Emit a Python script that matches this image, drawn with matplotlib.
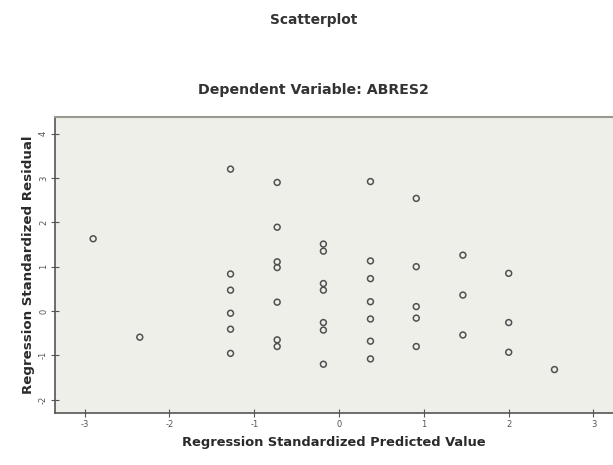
import matplotlib
matplotlib.use("Agg")
import matplotlib.pyplot as plt

# Data
pred = [-2.90, -2.35,
        -1.28, -1.28, -1.28, -1.28, -1.28, -1.28,
        -0.73, -0.73, -0.73, -0.73, -0.73, -0.73, -0.73,
        -0.185, -0.185, -0.185, -0.185, -0.185, -0.185, -0.185,
        0.37, 0.37, 0.37, 0.37, 0.37, 0.37, 0.37,
        0.91, 0.91, 0.91, 0.91, 0.91,
        1.46, 1.46, 1.46,
        2.00, 2.00, 2.00,
        2.54]
resid = [1.63, -0.59,
         3.20, 0.835, 0.47, -0.05, -0.41, -0.955,
         2.90, 1.89, 1.11, 0.98, 0.20, -0.65, -0.80,
         1.51, 1.35, 0.62, 0.47, -0.26, -0.43, -1.20,
         2.92, 1.13, 0.73, 0.21, -0.18, -0.68, -1.08,
         2.54, 1.00, 0.10, -0.16, -0.80,
         1.26, 0.36, -0.54,
         0.85, -0.26, -0.93,
         -1.32]
xticks = [-3, -2, -1, 0, 1, 2, 3]
yticks = [-2, -1, 0, 1, 2, 3, 4]

fig = plt.figure(figsize=(6.13, 4.65), dpi=100)
fig.patch.set_facecolor("white")
ax = fig.add_axes([0.0897, 0.1118, 0.9103, 0.637])
ax.set_facecolor("#efefea")
ax.scatter(pred, resid, s=18, facecolors="none", edgecolors="#505050", linewidths=1.1, zorder=3)

ax.set_xlim(-3.35, 3.23)
ax.set_ylim(-2.30, 4.38)
ax.set_xticks(xticks)
ax.set_yticks(yticks)
ax.set_xticklabels([str(t) for t in xticks], fontsize=6, color="#555555")
ax.set_yticklabels([str(t) for t in yticks], fontsize=6, color="#555555", rotation=90, va="center")
ax.tick_params(axis="both", direction="inout", length=6, width=0.8, color="#555555", pad=2)

for s in ["left", "bottom"]:
    ax.spines[s].set_color("#555555")
    ax.spines[s].set_linewidth(1.2)
ax.spines["top"].set_color("#999990")
ax.spines["top"].set_linewidth(1.5)
ax.spines["right"].set_visible(False)

ax.set_xlabel("Regression Standardized Predicted Value", fontsize=9.4, fontweight="bold", color="#2a2a2a", labelpad=5)
ax.set_ylabel("Regression Standardized Residual", fontsize=9.6, fontweight="bold", color="#2a2a2a", labelpad=3)

fig.text(0.512, 0.957, "Scatterplot", ha="center", va="center", fontsize=9.9, fontweight="bold", color="#333333")
fig.text(0.512, 0.806, "Dependent Variable: ABRES2", ha="center", va="center", fontsize=10.2, fontweight="bold", color="#333333")

fig.savefig("out.png", dpi=100)
